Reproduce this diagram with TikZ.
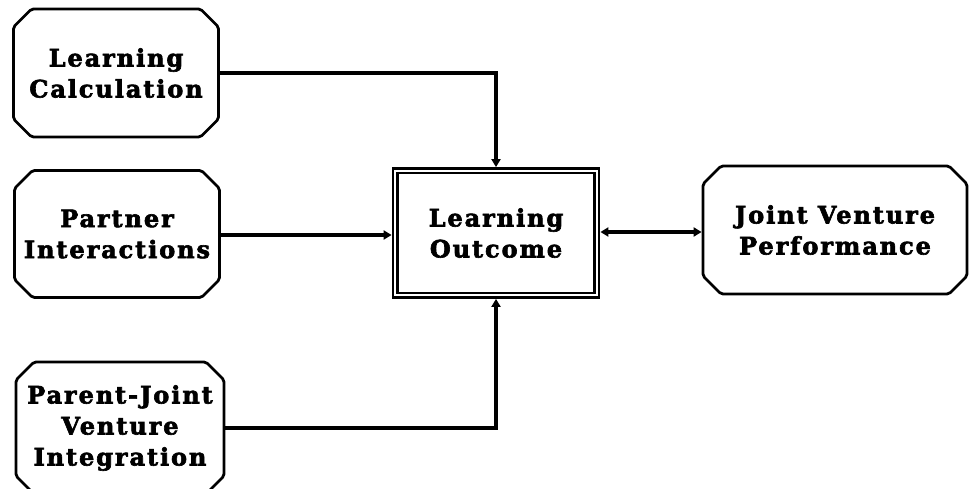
\documentclass[tikz,border=0pt]{standalone}
\usepackage{fontspec}
\setmainfont{DejaVu Serif}[BoldFont={DejaVu Serif Bold}]
\newfontfamily\boxfont{DejaVu Serif Bold}[LetterSpace=8,FakeBold=2.6]
\usetikzlibrary{shapes.misc,arrows.meta}
\begin{document}
\begin{tikzpicture}[x=1pt,y=-1pt,
  label font/.style={font=\boxfont\fontsize{24}{31}\selectfont},
  blk/.style={chamfered rectangle, chamfered rectangle xsep=9pt,
    chamfered rectangle ysep=9pt, draw, line width=2.8pt, rounded corners=2pt,
    inner sep=0pt, align=center, label font},
  core/.style={rectangle, draw, line width=2.8pt,
    inner sep=0pt, align=center, label font},
  frame/.style={line width=2.8pt},
  tip/.tip={Triangle[length=8pt,width=9pt]},
  link/.style={line width=3.8pt, -tip}
]
\useasboundingbox (0,0) rectangle (971,489);

\node[blk, minimum width=205pt, minimum height=128pt] (calc) at (116,73)
  {Learning\\Calculation};
\node[blk, minimum width=205pt, minimum height=127pt] (inter) at (117,234)
  {Partner\\Interactions};
\node[blk, minimum width=208pt, minimum height=132pt] (integ) at (120,428)
  {Parent-Joint\\Venture\\Integration};
\node[core, minimum width=206pt, minimum height=129pt] (out) at (496,233)
  {Learning\\Outcome};
\draw[frame] ([xshift=6pt,yshift=-6pt]out.north west)
  rectangle ([xshift=-6pt,yshift=6pt]out.south east);
\node[blk, minimum width=264pt, minimum height=128pt] (perf) at (835,230)
  {Joint Venture\\Performance};

\coordinate (c1) at (496,73);
\coordinate (c3) at (496,428);

\draw[link, line join=miter] (calc.east |- 0,73) -- (c1) -- (out.north);
\draw[link] (inter.east |- 0,235) -- (out.west |- 0,235);
\draw[link, line join=miter] (integ.east |- 0,428) -- (c3) -- (out.south);
\draw[link, tip-tip] (out.east |- 0,232) -- (perf.west |- 0,232);
\end{tikzpicture}
\end{document}
